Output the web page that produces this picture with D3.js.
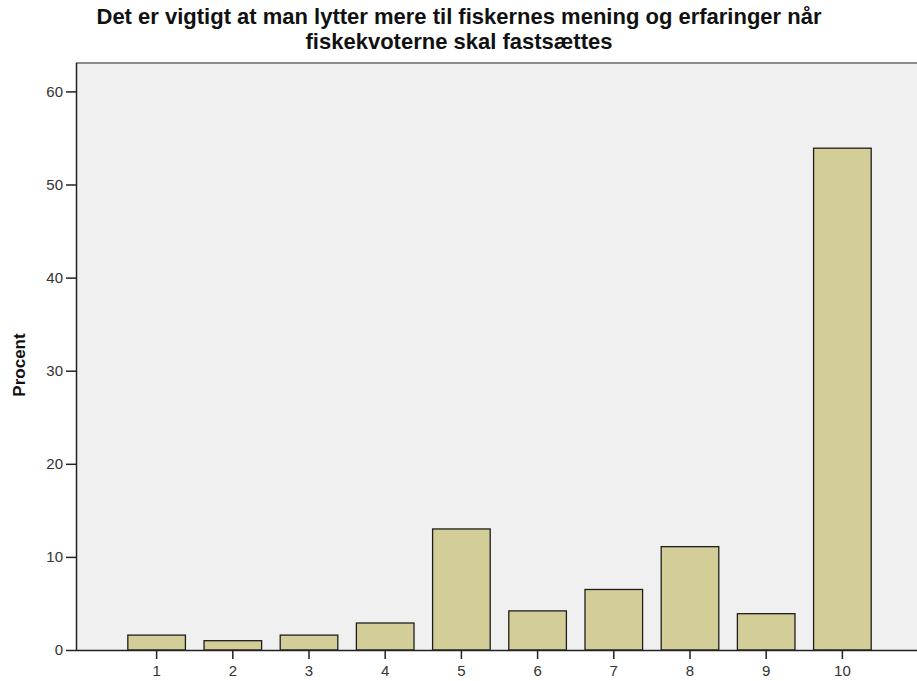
<!DOCTYPE html>
<html>
<head>
<meta charset="utf-8">
<script src="https://cdn.jsdelivr.net/npm/d3@7"></script>
<style>
  body { margin: 0; background: #fff; }
  text { font-family: "Liberation Sans", Arial, sans-serif; }
</style>
</head>
<body>
<script>
// data
const categories = ["1", "2", "3", "4", "5", "6", "7", "8", "9", "10"];
const percent = [1.6, 1.0, 1.6, 2.9, 13.0, 4.2, 6.5, 11.1, 3.9, 53.9];
const yTicks = [0, 10, 20, 30, 40, 50, 60];
const titleLines = ["Det er vigtigt at man lytter mere til fiskernes mening og erfaringer når",
                    "fiskekvoterne skal fastsættes"];

let canvasW = 917;
let canvasH = 681;

let plotLeft = 76;
let plotTop = 63;
let plotBottom = 650;
let plotRight = 923;

let svg = d3.select("body")
  .append("svg")
    .attr("width", canvasW)
    .attr("height", canvasH);

let xScale = d3.scaleBand()
  .domain(categories)
  .range([plotLeft, plotRight])
  .paddingInner(0.244)
  .paddingOuter(0.68);

let yScale = d3.scaleLinear()
  .domain([0, 60])
  .range([plotBottom, plotBottom - 6 * 93.1]);

// plot background
svg.append("rect")
  .attr("x", plotLeft)
  .attr("y", plotTop)
  .attr("width", canvasW - plotLeft)
  .attr("height", plotBottom - plotTop)
  .attr("fill", "#f0f0f0");

// top frame line
svg.append("line")
  .attr("x1", plotLeft).attr("x2", canvasW)
  .attr("y1", plotTop).attr("y2", plotTop)
  .attr("stroke", "#8c8c8c")
  .attr("stroke-width", 2);

// bars
svg.selectAll("rect.bar")
  .data(percent)
  .enter()
  .append("rect")
    .attr("class", "bar")
    .attr("x", (d, i) => xScale(categories[i]))
    .attr("y", d => yScale(d))
    .attr("width", xScale.bandwidth())
    .attr("height", d => yScale(0) - yScale(d))
    .attr("fill", "#d3ce97")
    .attr("stroke", "#1e1e1e")
    .attr("stroke-width", 1.3);

// axes
const yAxis = svg.append("g")
  .attr("transform", "translate(" + plotLeft + ",0)")
  .call(d3.axisLeft(yScale).tickValues(yTicks).tickSize(10).tickPadding(3).tickSizeOuter(0));

const xAxis = svg.append("g")
  .attr("transform", "translate(0," + plotBottom + ")")
  .call(d3.axisBottom(xScale).tickSize(9).tickPadding(6).tickSizeOuter(0));

xAxis.select(".domain").attr("d", "M" + plotLeft + ",0.5H" + canvasW);

svg.selectAll(".domain").attr("stroke", "#222").attr("stroke-width", 1.5);
svg.selectAll(".tick line").attr("stroke", "#222").attr("stroke-width", 1.5);
svg.selectAll(".tick text")
  .attr("font-family", "Liberation Sans, Arial, sans-serif")
  .attr("font-size", "15px")
  .attr("fill", "#333");

yAxis.select(".domain").attr("d", "M0.5," + plotTop + "V" + (plotBottom + 0.5));

// y label
svg.append("text")
  .attr("text-anchor", "middle")
  .attr("font-size", "17px")
  .attr("font-weight", "bold")
  .attr("fill", "#111")
  .attr("transform", "translate(25,365) rotate(-90)")
  .text("Procent");

// title, two lines
svg.selectAll("text.title")
  .data(titleLines)
  .enter()
  .append("text")
    .attr("class", "title")
    .attr("x", 459)
    .attr("y", (d, i) => 24 + i * 25)
    .attr("text-anchor", "middle")
    .attr("font-size", "22px")
    .attr("font-weight", "bold")
    .attr("fill", "#111")
    .text(d => d);
</script>
</body>
</html>
